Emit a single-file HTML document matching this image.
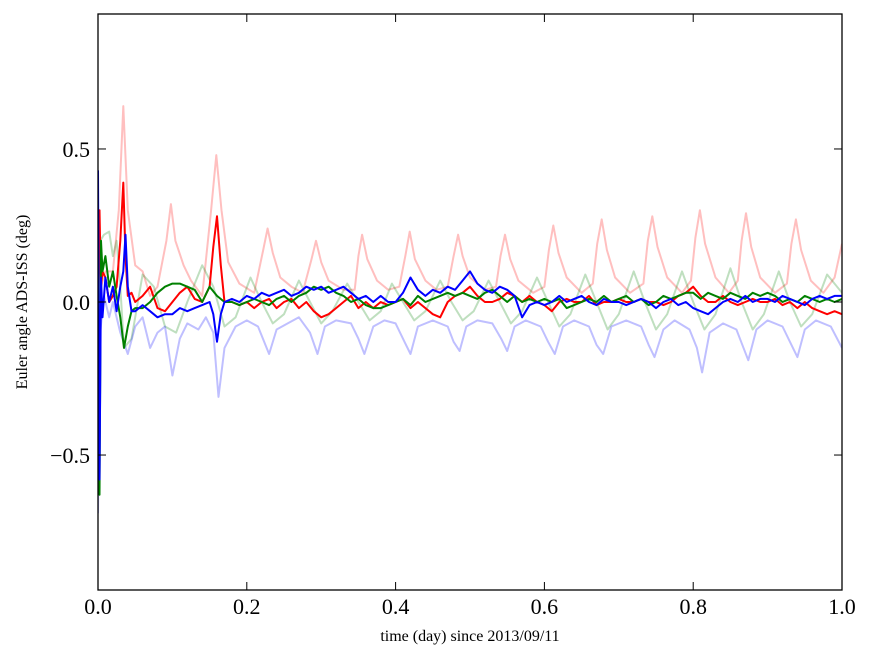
<!DOCTYPE html>
<html><head><meta charset="utf-8">
<style>
html,body{margin:0;padding:0;background:#fff;}
svg{display:block;font-family:"Liberation Serif",serif;}
</style></head>
<body>
<svg id="chart" width="875" height="662" viewBox="0 0 875 662" xmlns="http://www.w3.org/2000/svg">
<rect x="0" y="0" width="875" height="662" fill="#fff"/>
<defs><clipPath id="clip"><rect x="98" y="14" width="744" height="576"/></clipPath></defs>
<g id="series" clip-path="url(#clip)"></g>
<rect x="98" y="14" width="744" height="576" fill="none" stroke="#000" stroke-width="1.3"/>
<g id="axes"></g>
<text x="470" y="641" font-size="16" text-anchor="middle">time (day) since 2013/09/11</text>
<text x="27" y="302" font-size="16" text-anchor="middle" transform="rotate(-90 27 302)">Euler angle ADS-ISS (deg)</text>
</svg>
<script>
const xTicks=[0,0.2,0.4,0.6,0.8,1.0];
const xTickLabels=["0.0","0.2","0.4","0.6","0.8","1.0"];
const yTicks=[-0.5,0,0.5];
const yTickLabels=["\u22120.5","0.0","0.5"];
const lightRed=[[0,-0.1],[0.004,0.05],[0.01,0.1],[0.02,0.1],[0.028,0.3],[0.034,0.64],[0.04,0.3],[0.05,0.12],[0.06,0.1],[0.07,0.02],[0.08,0.05],[0.092,0.2],[0.098,0.32],[0.104,0.2],[0.115,0.12],[0.125,0.07],[0.14,0.02],[0.152,0.3],[0.159,0.48],[0.166,0.3],[0.175,0.13],[0.19,0.06],[0.21,0.03],[0.222,0.17],[0.228,0.24],[0.235,0.16],[0.245,0.08],[0.26,0.05],[0.275,0.03],[0.287,0.14],[0.293,0.2],[0.3,0.13],[0.31,0.07],[0.33,0.04],[0.345,0.04],[0.35,0.15],[0.355,0.22],[0.362,0.14],[0.375,0.07],[0.39,0.04],[0.405,0.05],[0.413,0.15],[0.419,0.23],[0.426,0.14],[0.44,0.07],[0.455,0.04],[0.47,0.05],[0.478,0.15],[0.484,0.22],[0.49,0.15],[0.5,0.08],[0.52,0.04],[0.535,0.05],[0.541,0.15],[0.547,0.22],[0.554,0.14],[0.565,0.07],[0.585,0.03],[0.6,0.05],[0.606,0.17],[0.612,0.25],[0.619,0.16],[0.63,0.08],[0.65,0.03],[0.665,0.06],[0.671,0.19],[0.677,0.27],[0.684,0.17],[0.695,0.08],[0.715,0.03],[0.733,0.06],[0.739,0.2],[0.745,0.28],[0.752,0.18],[0.765,0.08],[0.785,0.03],[0.797,0.07],[0.803,0.21],[0.809,0.3],[0.816,0.19],[0.83,0.08],[0.848,0.03],[0.86,0.07],[0.865,0.2],[0.871,0.29],[0.878,0.18],[0.89,0.08],[0.91,0.03],[0.926,0.06],[0.932,0.19],[0.938,0.27],[0.945,0.17],[0.958,0.07],[0.975,0.03],[0.99,0.08],[1.0,0.19]];
const lightGreen=[[0,-0.1],[0.003,0.2],[0.008,0.22],[0.015,0.23],[0.02,0.15],[0.025,0.2],[0.03,0.05],[0.035,-0.15],[0.045,-0.12],[0.06,0.09],[0.075,0.05],[0.09,-0.08],[0.105,-0.1],[0.12,0.0],[0.14,0.12],[0.155,0.05],[0.17,-0.08],[0.185,-0.05],[0.205,0.08],[0.22,0.0],[0.235,-0.07],[0.25,-0.04],[0.27,0.07],[0.285,0.0],[0.3,-0.07],[0.315,-0.03],[0.335,0.06],[0.35,0.0],[0.365,-0.06],[0.38,-0.03],[0.395,0.06],[0.41,0.0],[0.425,-0.06],[0.44,-0.03],[0.46,0.07],[0.475,0.0],[0.49,-0.06],[0.505,-0.03],[0.525,0.07],[0.54,0.0],[0.555,-0.07],[0.57,-0.03],[0.59,0.08],[0.605,0.0],[0.62,-0.08],[0.635,-0.04],[0.655,0.09],[0.67,0.0],[0.685,-0.09],[0.7,-0.04],[0.72,0.1],[0.735,0.0],[0.75,-0.09],[0.765,-0.04],[0.785,0.1],[0.8,0.0],[0.815,-0.09],[0.83,-0.04],[0.85,0.11],[0.865,0.0],[0.88,-0.09],[0.895,-0.04],[0.915,0.1],[0.93,0.0],[0.945,-0.08],[0.96,-0.04],[0.98,0.09],[1.0,0.03]];
const lightBlue=[[0,-0.69],[0.003,-0.1],[0.008,0.02],[0.015,-0.05],[0.02,0.0],[0.03,-0.1],[0.04,-0.17],[0.05,-0.08],[0.06,-0.05],[0.07,-0.15],[0.08,-0.1],[0.09,-0.08],[0.1,-0.24],[0.11,-0.12],[0.12,-0.07],[0.135,-0.09],[0.145,-0.05],[0.155,-0.1],[0.162,-0.31],[0.17,-0.15],[0.185,-0.08],[0.2,-0.06],[0.215,-0.08],[0.23,-0.17],[0.24,-0.09],[0.255,-0.07],[0.27,-0.05],[0.285,-0.1],[0.295,-0.17],[0.305,-0.08],[0.32,-0.06],[0.34,-0.07],[0.35,-0.12],[0.358,-0.17],[0.37,-0.08],[0.385,-0.06],[0.4,-0.07],[0.412,-0.13],[0.42,-0.17],[0.43,-0.08],[0.45,-0.06],[0.47,-0.08],[0.478,-0.13],[0.486,-0.16],[0.495,-0.08],[0.51,-0.06],[0.53,-0.07],[0.542,-0.12],[0.55,-0.16],[0.56,-0.08],[0.575,-0.06],[0.595,-0.08],[0.605,-0.13],[0.614,-0.17],[0.625,-0.08],[0.64,-0.06],[0.66,-0.08],[0.67,-0.14],[0.679,-0.17],[0.69,-0.08],[0.71,-0.06],[0.73,-0.08],[0.74,-0.14],[0.748,-0.18],[0.76,-0.09],[0.775,-0.06],[0.795,-0.09],[0.805,-0.15],[0.812,-0.23],[0.822,-0.1],[0.84,-0.07],[0.858,-0.09],[0.866,-0.14],[0.874,-0.19],[0.885,-0.09],[0.9,-0.06],[0.92,-0.08],[0.932,-0.14],[0.94,-0.18],[0.95,-0.09],[0.965,-0.06],[0.985,-0.08],[1.0,-0.15]];
const darkRed=[[0,-0.1],[0.002,0.3],[0.004,0.05],[0.006,0.1],[0.01,0.08],[0.015,0.0],[0.02,0.02],[0.025,0.05],[0.03,0.2],[0.034,0.39],[0.037,0.15],[0.04,0.02],[0.045,0.03],[0.05,0.0],[0.06,0.02],[0.07,0.05],[0.08,-0.02],[0.09,-0.03],[0.1,0.0],[0.11,0.03],[0.12,0.05],[0.13,0.01],[0.14,0.0],[0.15,0.05],[0.155,0.18],[0.16,0.28],[0.165,0.12],[0.17,0.0],[0.18,0.0],[0.19,-0.01],[0.2,0.0],[0.21,-0.02],[0.22,0.0],[0.23,0.01],[0.24,-0.02],[0.25,0.0],[0.26,0.01],[0.27,-0.02],[0.28,0.0],[0.29,-0.03],[0.3,-0.05],[0.31,-0.04],[0.32,-0.02],[0.33,0.0],[0.34,0.02],[0.35,-0.02],[0.36,0.0],[0.37,-0.02],[0.38,0.0],[0.39,-0.01],[0.4,0.0],[0.41,0.01],[0.42,-0.02],[0.43,0.0],[0.44,-0.02],[0.45,-0.04],[0.46,-0.05],[0.47,0.0],[0.48,0.02],[0.49,0.03],[0.5,0.05],[0.51,0.02],[0.52,0.0],[0.53,0.0],[0.54,0.01],[0.55,0.03],[0.56,0.02],[0.57,0.0],[0.58,0.02],[0.59,0.0],[0.6,-0.01],[0.61,-0.03],[0.62,0.0],[0.63,0.01],[0.64,0.0],[0.65,0.0],[0.66,0.02],[0.67,-0.01],[0.68,0.0],[0.69,0.0],[0.7,0.01],[0.71,0.0],[0.72,0.0],[0.73,0.01],[0.74,0.0],[0.75,0.0],[0.76,-0.01],[0.77,0.0],[0.78,0.02],[0.79,0.03],[0.8,0.05],[0.81,0.02],[0.82,0.0],[0.83,0.0],[0.84,0.02],[0.85,0.0],[0.86,-0.01],[0.87,0.0],[0.88,0.01],[0.89,0.0],[0.9,0.0],[0.91,0.01],[0.92,-0.01],[0.93,0.0],[0.94,-0.02],[0.95,0.0],[0.96,-0.02],[0.97,-0.03],[0.98,-0.04],[0.99,-0.03],[1.0,-0.04]];
const darkGreen=[[0,-0.2],[0.002,-0.63],[0.004,0.2],[0.006,0.1],[0.01,0.15],[0.015,0.05],[0.02,0.1],[0.025,0.02],[0.03,-0.05],[0.035,-0.15],[0.04,-0.08],[0.045,-0.03],[0.05,-0.02],[0.06,-0.02],[0.07,0.0],[0.08,0.03],[0.09,0.05],[0.1,0.06],[0.11,0.06],[0.12,0.05],[0.13,0.04],[0.14,0.0],[0.15,0.05],[0.16,0.02],[0.17,0.0],[0.18,0.0],[0.19,-0.01],[0.2,0.0],[0.21,0.01],[0.22,0.0],[0.23,-0.01],[0.24,0.01],[0.25,0.02],[0.26,0.0],[0.27,0.02],[0.28,0.03],[0.29,0.05],[0.3,0.04],[0.31,0.05],[0.32,0.03],[0.33,0.02],[0.34,0.0],[0.35,0.01],[0.36,-0.01],[0.37,-0.02],[0.38,-0.02],[0.39,-0.01],[0.4,0.0],[0.41,0.01],[0.42,-0.01],[0.43,0.02],[0.44,0.0],[0.45,0.01],[0.46,0.02],[0.47,0.03],[0.48,0.02],[0.49,0.03],[0.5,0.02],[0.51,0.01],[0.52,0.03],[0.53,0.04],[0.54,0.02],[0.55,0.0],[0.56,0.02],[0.57,0.0],[0.58,0.01],[0.59,0.0],[0.6,0.01],[0.61,0.0],[0.62,0.01],[0.63,-0.02],[0.64,-0.01],[0.65,0.0],[0.66,0.01],[0.67,0.0],[0.68,0.02],[0.69,0.0],[0.7,0.01],[0.71,0.02],[0.72,0.0],[0.73,0.01],[0.74,-0.01],[0.75,0.0],[0.76,0.02],[0.77,0.01],[0.78,0.02],[0.79,0.03],[0.8,0.03],[0.81,0.01],[0.82,0.03],[0.83,0.02],[0.84,0.01],[0.85,0.03],[0.86,0.02],[0.87,0.01],[0.88,0.03],[0.89,0.02],[0.9,0.03],[0.91,0.02],[0.92,0.0],[0.93,0.01],[0.94,0.0],[0.95,0.02],[0.96,0.01],[0.97,0.0],[0.98,0.01],[0.99,0.0],[1.0,0.01]];
const darkBlue=[[0,0.43],[0.002,-0.58],[0.004,0.08],[0.006,-0.05],[0.01,0.08],[0.015,0.0],[0.02,0.05],[0.025,-0.03],[0.03,0.05],[0.034,0.1],[0.037,0.22],[0.04,0.05],[0.045,-0.03],[0.05,-0.03],[0.06,-0.01],[0.07,-0.03],[0.08,-0.05],[0.09,-0.04],[0.1,-0.04],[0.11,-0.02],[0.12,-0.03],[0.13,-0.02],[0.14,-0.01],[0.15,0.0],[0.155,-0.04],[0.16,-0.13],[0.165,-0.04],[0.17,0.0],[0.18,0.01],[0.19,0.0],[0.2,0.02],[0.21,0.01],[0.22,0.03],[0.23,0.02],[0.24,0.03],[0.25,0.04],[0.26,0.02],[0.27,0.03],[0.28,0.05],[0.29,0.04],[0.3,0.05],[0.31,0.03],[0.32,0.04],[0.33,0.05],[0.34,0.03],[0.35,0.01],[0.36,0.02],[0.37,0.0],[0.38,0.02],[0.39,0.0],[0.4,0.0],[0.41,0.03],[0.42,0.08],[0.43,0.04],[0.44,0.02],[0.45,0.04],[0.46,0.03],[0.47,0.05],[0.48,0.04],[0.49,0.07],[0.5,0.1],[0.51,0.06],[0.52,0.04],[0.53,0.03],[0.54,0.05],[0.55,0.04],[0.56,0.02],[0.57,-0.05],[0.58,-0.01],[0.59,0.0],[0.6,-0.01],[0.61,0.0],[0.62,0.02],[0.63,0.0],[0.64,0.01],[0.65,0.02],[0.66,0.0],[0.67,-0.01],[0.68,0.01],[0.69,0.0],[0.7,0.0],[0.71,-0.01],[0.72,0.0],[0.73,0.01],[0.74,0.0],[0.75,-0.02],[0.76,0.0],[0.77,0.01],[0.78,-0.01],[0.79,0.0],[0.8,-0.02],[0.81,-0.03],[0.82,-0.04],[0.83,-0.02],[0.84,0.0],[0.85,0.01],[0.86,0.0],[0.87,0.02],[0.88,0.0],[0.89,0.01],[0.9,0.01],[0.91,0.0],[0.92,0.02],[0.93,0.01],[0.94,0.0],[0.95,-0.01],[0.96,0.01],[0.97,0.02],[0.98,0.01],[0.99,0.02],[1.0,0.02]];

const X0=98,X1=842,YTOP=14,YBOT=590,YMIN=-0.941,YMAX=0.941;
function sx(v){return X0+(v-0)/(1-0)*(X1-X0);}
function sy(v){return YBOT-(v-YMIN)/(YMAX-YMIN)*(YBOT-YTOP);}
const NS="http://www.w3.org/2000/svg";
const g=document.getElementById('series');
function drawLine(data,color,opacity,name){
  const p=document.createElementNS(NS,'path');
  p.setAttribute('d',data.map((d,i)=>(i?'L':'M')+sx(d[0]).toFixed(1)+' '+sy(d[1]).toFixed(1)).join(''));
  p.setAttribute('fill','none');
  p.setAttribute('stroke',color);
  p.setAttribute('stroke-opacity',opacity);
  p.setAttribute('stroke-width','2');
  p.setAttribute('stroke-linejoin','round');
  
  
  g.appendChild(p);
}
drawLine(lightRed,'#ff0000',0.25,'light-red-series');
drawLine(lightGreen,'#008000',0.25,'light-green-series');
drawLine(lightBlue,'#0000ff',0.25,'light-blue-series');
drawLine(darkRed,'#ff0000',1,'red-series');
drawLine(darkGreen,'#008000',1,'green-series');
drawLine(darkBlue,'#0000ff',1,'blue-series');

const ax=document.getElementById('axes');
function mk(tag,attrs){const e=document.createElementNS(NS,tag);for(const k in attrs)e.setAttribute(k,attrs[k]);ax.appendChild(e);return e;}
xTicks.forEach((t,i)=>{
  const x=sx(t);
  const a=mk('line',{x1:x,x2:x,y1:YBOT,y2:YBOT-8,stroke:'#000','stroke-width':1});
  
  
  const b=mk('line',{x1:x,x2:x,y1:YTOP,y2:YTOP+8,stroke:'#000','stroke-width':1});
  
  
  const tx=mk('text',{x:x,y:614,'font-size':22,'text-anchor':'middle'});
  tx.textContent=xTickLabels[i];
  
  
});
yTicks.forEach((t,i)=>{
  const y=sy(t);
  const a=mk('line',{x1:X0,x2:X0+8,y1:y,y2:y,stroke:'#000','stroke-width':1});
  
  
  const b=mk('line',{x1:X1,x2:X1-8,y1:y,y2:y,stroke:'#000','stroke-width':1});
  
  
  const tx=mk('text',{x:90,y:y+8,'font-size':22,'text-anchor':'end'});
  tx.textContent=yTickLabels[i];
  
  
});
</script>
</body></html>
